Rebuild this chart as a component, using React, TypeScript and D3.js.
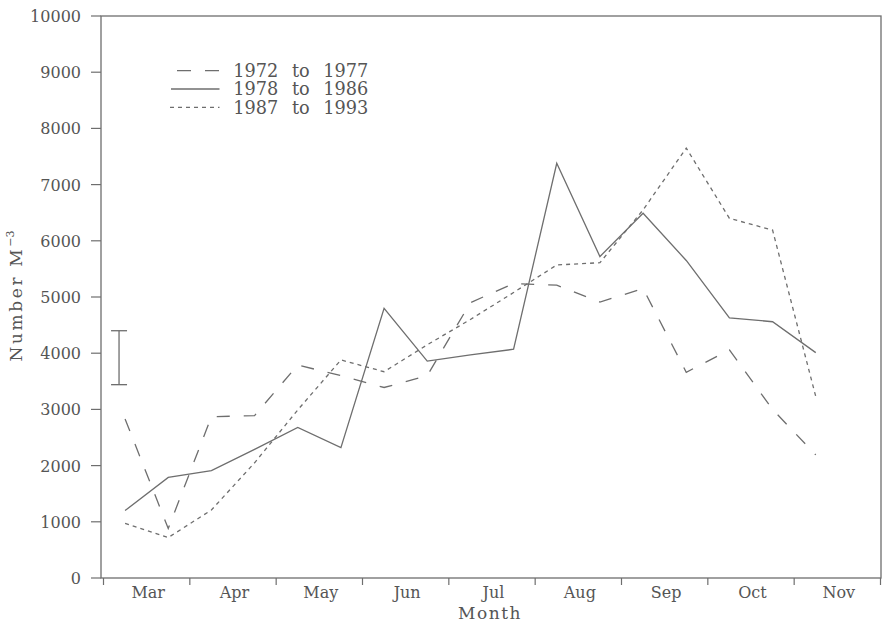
import React from "react";
import * as d3 from "d3";

// ---- data ----
const months = ["Mar", "Apr", "May", "Jun", "Jul", "Aug", "Sep", "Oct", "Nov"];
// fortnight positions in month units (0 = start of March)
const fortnight = [0.25, 0.75, 1.25, 1.75, 2.25, 2.75, 3.25, 3.75, 4.25, 4.75, 5.25, 5.75, 6.25, 6.75, 7.25, 7.75, 8.25];
const series1972 = [2830, 880, 2870, 2890, 3790, 3600, 3390, 3600, 4900, 5240, 5210, 4910, 5150, 3660, 4060, 3000, 2190];
const series1978 = [1200, 1790, 1910, 2290, 2680, 2320, 4800, 3860, 3970, 4070, 7380, 5720, 6490, 5650, 4630, 4560, 4010];
const series1987 = [970, 720, 1210, 2050, 2990, 3880, 3670, 4150, 4600, 5080, 5570, 5610, 6550, 7650, 6400, 6190, 3230];
const legendLabels = [["1972", "to", "1977"], ["1978", "to", "1986"], ["1987", "to", "1993"]];
const yTicks = [0, 1000, 2000, 3000, 4000, 5000, 6000, 7000, 8000, 9000, 10000];
const errorBar = { x: 0.18, low: 3440, high: 4400 };

const W = 882, H = 622;
const axisLeft = 101, plotTop = 16, plotBottom = 578, plotRight = 881;
const GREY = "#6e6e6e";
const TEXT = "#555";
const FONT = "'DejaVu Serif', serif";

export default function App() {
  const x = d3.scaleLinear().domain([0, 9]).range([103.5, 880.5]);
  const y = d3.scaleLinear().domain([0, 10000]).range([plotBottom, plotTop]);
  const line = d3
    .line<number>()
    .x((_, i) => x(fortnight[i]))
    .y((d) => y(d));

  const seriesDefs = [
    { data: series1972, dash: "13,14" },
    { data: series1978, dash: undefined as string | undefined },
    { data: series1987, dash: "4,4" },
  ];

  const monthTicks = d3.range(0, months.length + 1);
  const legendX0 = 233.3;
  const pitch = 11.25;
  const legendRows = [77, 95.3, 113.6];

  return (
    <svg width={W} height={H} style={{ display: "block", position: "absolute", left: 0, top: 0, background: "#fff" }}>
      <rect x={0} y={0} width={W} height={H} fill="#fff" />
      {/* frame */}
      <rect x={axisLeft} y={plotTop} width={plotRight - axisLeft} height={plotBottom - plotTop} fill="none" stroke={GREY} strokeWidth={1.3} />
      {/* y ticks */}
      {yTicks.map((t) => (
        <g key={t}>
          <line x1={axisLeft - 10} x2={axisLeft} y1={y(t)} y2={y(t)} stroke={GREY} strokeWidth={1.2} />
          <text x={81} y={y(t) + 6} textAnchor="end" fontFamily={FONT} fontSize={16} fill={TEXT}>
            {t}
          </text>
        </g>
      ))}
      {/* x ticks */}
      {monthTicks.map((m) => (
        <line key={m} x1={x(m)} x2={x(m)} y1={plotBottom} y2={plotBottom + 7} stroke={GREY} strokeWidth={1.2} />
      ))}
      {months.map((m, i) => (
        <text key={m} x={x(i + 0.5) + 1.5} y={597.5} textAnchor="middle" fontFamily={FONT} fontSize={16} fill={TEXT}>
          {m}
        </text>
      ))}
      <text x={490} y={618.5} textAnchor="middle" fontFamily={FONT} fontSize={17} letterSpacing={1.5} fill={TEXT}>
        Month
      </text>
      <text transform="translate(22,296) rotate(-90)" textAnchor="middle" fontFamily={FONT} fontSize={17} letterSpacing={2.6} fill={TEXT}>
        Number M
        <tspan dy={-8} fontSize={11} letterSpacing={0}>−3</tspan>
      </text>
      {/* error bar */}
      <g stroke={GREY} strokeWidth={1.3}>
        <line x1={x(errorBar.x)} x2={x(errorBar.x)} y1={y(errorBar.low)} y2={y(errorBar.high)} />
        <line x1={x(errorBar.x) - 8} x2={x(errorBar.x) + 8} y1={y(errorBar.low)} y2={y(errorBar.low)} />
        <line x1={x(errorBar.x) - 8} x2={x(errorBar.x) + 8} y1={y(errorBar.high)} y2={y(errorBar.high)} />
      </g>
      {/* series */}
      {seriesDefs.map((s, i) => (
        <path key={i} d={line(s.data) || ""} fill="none" stroke={GREY} strokeWidth={1.3} strokeDasharray={s.dash} strokeLinejoin="miter" />
      ))}
      {/* legend */}
      <line x1={177} x2={219.5} y1={70.7} y2={70.7} stroke={GREY} strokeWidth={1.3} strokeDasharray="14,14" />
      <line x1={171} x2={219.5} y1={89} y2={89} stroke={GREY} strokeWidth={1.3} />
      <line x1={170} x2={219.5} y1={107.3} y2={107.3} stroke={GREY} strokeWidth={1.3} strokeDasharray="4,4" />
      {legendLabels.map((parts, r) => (
        <g key={r} fontFamily={FONT} fontSize={17.7} fill={TEXT}>
          <text x={legendX0} y={legendRows[r]}>{parts[0]}</text>
          <text x={legendX0 + pitch * 6} y={legendRows[r]} textAnchor="middle">{parts[1]}</text>
          <text x={legendX0 + pitch * 8} y={legendRows[r]}>{parts[2]}</text>
        </g>
      ))}
    </svg>
  );
}
